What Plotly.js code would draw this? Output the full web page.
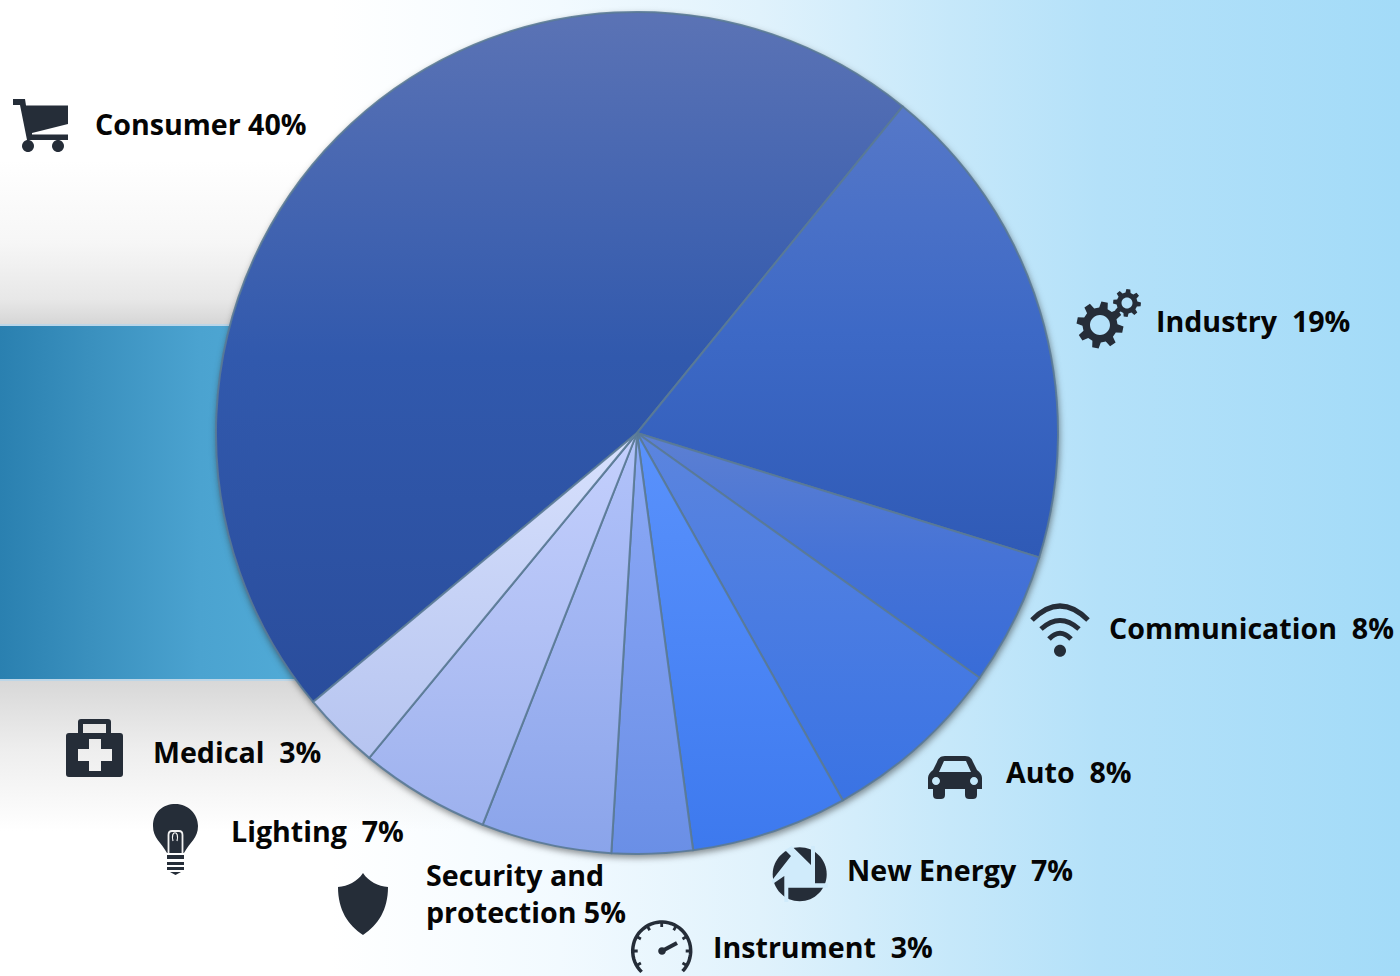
<!DOCTYPE html>
<html>
<head>
<meta charset="utf-8">
<script src="https://cdn.plot.ly/plotly-3.0.1.min.js"></script>
<style>
html,body{margin:0;padding:0;width:1400px;height:976px;overflow:hidden;background:#fff}
#bg{position:absolute;left:0;top:0;width:1400px;height:976px;
 background:linear-gradient(90deg,#fff 0,#fff 330px,#f2faff 560px,#e0f2fc 760px,#c6e8fa 950px,#b4e1f9 1100px,#a3dbf8 1400px)}
#g1{position:absolute;left:0;top:160px;width:420px;height:164px;background:linear-gradient(180deg,rgba(216,216,216,0) 0,rgba(216,216,216,.22) 50%,rgba(216,216,216,.6) 85%,rgba(214,214,214,1) 100%)}
#g2{position:absolute;left:0;top:681px;width:460px;height:150px;background:linear-gradient(0deg,rgba(216,216,216,0) 0,rgba(216,216,216,.45) 55%,rgba(216,216,216,1) 100%)}
#band{position:absolute;left:0;top:324px;width:320px;height:357px;box-sizing:border-box;border-top:2px solid #bcd6e8;border-bottom:2px solid #bcd6e8;background:linear-gradient(90deg,#2a80b0 0,#3a90be 90px,#4ba3d0 200px,#52acd8 320px)}
#plot{position:absolute;left:0;top:0;width:1400px;height:976px}
.pielayer{filter:drop-shadow(1px 3px 3px rgba(40,40,40,.5))}
</style>
</head>
<body>
<div id="bg"></div><div id="g1"></div><div id="g2"></div><div id="band"></div>
<div id="plot"></div>
<script>
// Slice names and shares as drawn in the picture
var sliceNames = ["Consumer","Industry","Communication","Auto","New Energy","Instrument","Security and protection","Lighting","Medical"];
var sliceShares = [46.9,18.9,5.1,7.0,6.0,3.1,5.0,5.0,3.0];
var sliceTop = ["#5b73b5","#5678c8","#5d80d2","#5c85de","#5a92fc","#8dabf6","#b2c3fa","#c4d0fd","#d8e1fd"];
var sliceMid = ["#3159ad","#3d69c6","#4673d6","#4a7ce2","#4c86f6","#7c9cef","#a0b4f2","#b2c1f5","#c6d2f6"];
var sliceBot = ["#2a4d9c","#2f5ab6","#386cd8","#3a73e4","#3d79ee","#6a8fe6","#8aa4ea","#9db1ee","#b6c4f0"];
var pieStartAngle = 230.3;

// Label text as printed
var labelLines = ["Consumer 40%","Industry\u00a0 19%","Communication\u00a0 8%","Auto\u00a0 8%","New Energy\u00a0 7%","Instrument\u00a0 3%","Security and<br>protection\u00a05%","Lighting\u00a0 7%","Medical\u00a0 3%"];
var labelX = [94,1155,1108,1005,846,712,425,230,152];
var labelY = [123,320,627,771,869,946,893,830,751];

var ink = "#252d38";
function circle(cx,cy,r){var k=r*0.5523;return "M"+(cx-r)+","+cy+"C"+(cx-r)+","+(cy-k)+" "+(cx-k)+","+(cy-r)+" "+cx+","+(cy-r)+"C"+(cx+k)+","+(cy-r)+" "+(cx+r)+","+(cy-k)+" "+(cx+r)+","+cy+"C"+(cx+r)+","+(cy+k)+" "+(cx+k)+","+(cy+r)+" "+cx+","+(cy+r)+"C"+(cx-k)+","+(cy+r)+" "+(cx-r)+","+(cy+k)+" "+(cx-r)+","+cy+"Z";}
function gear(cx,cy,ro,ri,hole,n,rot){var p=[],st=Math.PI*2/n;for(var i=0;i<n;i++){var a=rot+i*st;
 [[-0.30,ri],[-0.17,ro],[0.17,ro],[0.30,ri]].forEach(function(q){var t=a+q[0]*st*1.05;p.push((cx+q[1]*Math.cos(t)).toFixed(1)+","+(cy+q[1]*Math.sin(t)).toFixed(1));});}
 return "M"+p.join("L")+"Z"+circle(cx,cy,hole);}
function polar(cx,cy,r,deg){var t=deg*Math.PI/180;return (cx+r*Math.sin(t)).toFixed(1)+","+(cy-r*Math.cos(t)).toFixed(1);}
function arc(cx,cy,r,a0,a1){var p=[];for(var a=a0;a<=a1;a+=6)p.push(polar(cx,cy,r,a));return "M"+p.join("L");}
function ticks(cx,cy,r0,r1){var s="";for(var a=-120;a<=120;a+=30)s+="M"+polar(cx,cy,r0,a)+"L"+polar(cx,cy,r1,a);return s;}
function solid(path,col){return {type:"path",xref:"x",yref:"y",path:path,fillcolor:col||ink,fillrule:"evenodd",line:{width:0},layer:"above"};}
function stroke(path,w,col){return {type:"path",xref:"x",yref:"y",path:path,fillcolor:"rgba(0,0,0,0)",line:{width:w,color:col||ink},layer:"above"};}

var iconShapes = [
 // cart
 solid("M13,99H25L26,105.5H68V124L32,133V134.5H68V140H27L20,105H13Z"),
 solid(circle(28,146,6)),solid(circle(58,146,6)),
 // gears
 solid(gear(1100,325,23.5,17.5,10,8,0.2)),
 solid(gear(1127,303,14,10.5,5.5,8,0.1)),
 // wifi
 stroke("M1032,620Q1060,592 1088,620",5),
 stroke("M1041,629Q1060,612 1079,629",5),
 stroke("M1049,639Q1060,627.5 1071,639",5),
 solid(circle(1060,650.7,6)),
 // car
 solid("M945,756H965C970,756 972,759 973,762L977,770C980,772 982,775 982,778V789H977V795C977,798 975,799 973,799H969C967,799 965,798 965,795V789H945V795C945,798 943,799 941,799H937C935,799 933,798 933,795V789H928V778C928,775 930,772 933,770L937,762C938,759 940,756 945,756ZM944,761L939,772H971L966,761Z"+circle(936,781,4)+circle(974,781,4)),
 // aperture
 solid(circle(799.7,874.3,27)),
 solid("M785,850L791.7,846L811,865V846H815V883.3H828V887.7H788.3V902H784.3V876L773,883.7L771.7,880.7L791,856Z","#d0ebfb"),
 // gauge
 stroke(arc(661.7,951,29,-136,136),3.5),
 stroke(ticks(661.7,951,29,24),2.8),
 stroke("M662,951L677,943",4),
 solid(circle(662,951,3.8)),
 // shield
 solid("M363,873C369,882 378,886 388,887C388,910 378,925 363,935C348,925 338,910 338,887C348,886 357,882 363,873Z"),
 // bulb
 solid("M153,826C153,812 163,804 175.5,804C188,804 198,814 198,826C198,838 190,842 184,853H167C161,842 153,838 153,826Z"),
 stroke("M168.5,853V835Q168.5,831 172,831H179Q182.5,831 182.5,835V853",1.8,"#f2f2f2"),
 stroke("M173,841C170,830 180,830 177,841",1.2,"#f2f2f2"),
 solid("M167,855H184V859H167Z"),solid("M167,862H184V865H167Z"),solid("M167,867H184V870H167Z"),solid("M170,872H181L175.5,875Z"),
 // medical case
 solid("M69,733H120Q123,733 123,736V774Q123,777 120,777H69Q66,777 66,774V736Q66,733 69,733ZM89,739V749H78V761H89V771H101V761H112V749H101V739Z"),
 solid("M78,733V722Q78,719 81,719H108Q111,719 111,722V733H106V724H83V733Z")
];

var annotations = labelLines.map(function(t,i){
 return {text:t,x:labelX[i],y:labelY[i],xref:"x",yref:"y",xanchor:"left",yanchor:"middle",showarrow:false,align:"left",
  font:{family:"'Open Sans',sans-serif",size:28.6,color:"#050505",weight:700},borderpad:0};
});

var pieTrace = {type:"pie",labels:sliceNames,values:sliceShares,sort:false,direction:"clockwise",rotation:pieStartAngle,
 textinfo:"none",hoverinfo:"none",showlegend:false,
 domain:{x:[216/1400,1058/1400],y:[(976-854)/976,(976-12)/976]},
 marker:{colors:sliceMid,line:{color:"rgba(90,122,150,0.9)",width:2}}};

var layout = {width:1400,height:976,margin:{l:0,r:0,t:0,b:0},paper_bgcolor:"rgba(0,0,0,0)",plot_bgcolor:"rgba(0,0,0,0)",
 xaxis:{range:[0,1400],visible:false,fixedrange:true},
 yaxis:{range:[976,0],visible:false,fixedrange:true},
 showlegend:false,shapes:iconShapes,annotations:annotations};

Plotly.newPlot("plot",[pieTrace],layout,{displayModeBar:false,staticPlot:true}).then(function(gd){
 var svg=gd.querySelector("svg.main-svg"),ns="http://www.w3.org/2000/svg";
 var defs=document.createElementNS(ns,"defs");
 sliceNames.forEach(function(n,i){
  var g=document.createElementNS(ns,"linearGradient");
  g.setAttribute("id","sliceGrad"+i);g.setAttribute("x1","0");g.setAttribute("y1","0");g.setAttribute("x2","0");g.setAttribute("y2","1");
  [[0,sliceTop[i]],[0.5,sliceMid[i]],[1,sliceBot[i]]].forEach(function(s){var e=document.createElementNS(ns,"stop");e.setAttribute("offset",s[0]);e.setAttribute("stop-color",s[1]);g.appendChild(e);});
  defs.appendChild(g);
 });
 svg.insertBefore(defs,svg.firstChild);
 gd.querySelectorAll(".pielayer .slice path.surface").forEach(function(p,i){p.style.fill="url(#sliceGrad"+i+")";});
});
</script>
</body>
</html>
